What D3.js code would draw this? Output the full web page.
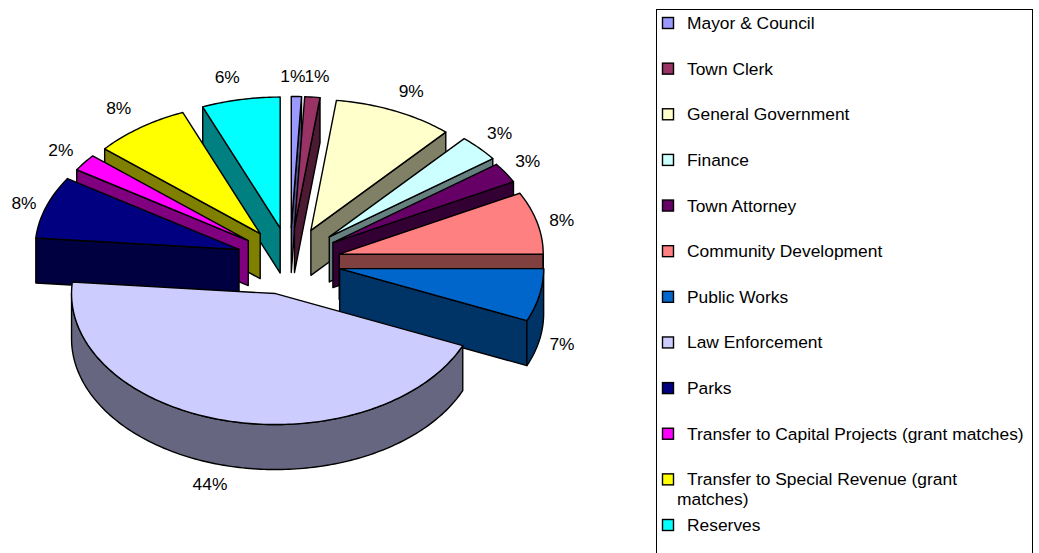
<!DOCTYPE html>
<html><head><meta charset="utf-8">
<script src="https://cdn.jsdelivr.net/npm/d3@7"></script>
<style>html,body{margin:0;padding:0;background:#fff}svg{display:block}text{font-family:"Liberation Sans",Arial,sans-serif;fill:#000}</style>
</head><body><svg id="c" width="1039" height="553"></svg>
<script>
// --- data ---
const categories = ["Mayor & Council","Town Clerk","General Government","Finance","Town Attorney","Community Development","Public Works","Law Enforcement","Parks","Transfer to Capital Projects (grant matches)","Transfer to Special Revenue (grant matches)","Reserves"];
// printed percentages
const shownPercent = [1,1,9,3,3,8,7,44,8,2,8,6];
// slice sizes estimated from the drawn pie (one decimal beyond the printed labels)
const visibleShare = [0.8,1.2,9.5,3.3,2.5,7.7,6.5,44.9,7.7,2.1,7.6,6.2];
const colours = ["#9999FF","#993366","#FFFFCC","#CCFFFF","#660066","#FF8080","#0066CC","#CCCCFF","#000080","#FF00FF","#FFFF00","#00FFFF"];

// --- layout ---
const cx=290, cy=260, rx=204, ry=131, depth=45, explode=50.7/204;
const paintOrder=[0,1,11,2,10,3,9,4,8,5,6,7];
const lean=[[0,0],[0,0],[0,0],[2,-1],[0,0],[0,2],[0,2],[-2,2],[-3,0],[-1,0],[0,0],[0,0]];
const labelNudge=[[-4,-2],[3,-3],[9,-4],[7,-3],[7,-2],[7,1],[5,45],[-11,46],[-5,2],[-9,-2],[-11,-5],[-10,-5]];

const svg=d3.select("#c");
const px=d3.scaleLinear().domain([-1,1]).range([-rx,rx]);
const py=d3.scaleLinear().domain([-1,1]).range([-ry,ry]);
const arcs=d3.pie().sort(null).startAngle(0).endAngle(2*Math.PI)(visibleShare);
const line=d3.line();
const pt=(a,r,o,dz=0)=>[o[0]+px(Math.sin(a)*r), o[1]+py(-Math.cos(a)*r)+dz];

const slices=arcs.map((d,i)=>{
  const mid=(d.startAngle+d.endAngle)/2;
  const o=[cx+px(Math.sin(mid)*explode)+lean[i][0], cy+py(-Math.cos(mid)*explode)+lean[i][1]];
  return {i,a0:d.startAngle,a1:d.endAngle,mid,o,col:colours[i]};
});
const sideCol=c=>{const k=d3.rgb(c);return d3.rgb(k.r*.5,k.g*.5,k.b*.5).formatHex();};
const arcPts=(a0,a1,o,dz=0)=>{
  const n=Math.max(2,Math.ceil((a1-a0)/(Math.PI/180)));
  return d3.range(n+1).map(k=>pt(a0+(a1-a0)*k/n,1,o,dz));
};
const stroke={stroke:"#000","stroke-width":1.4,"stroke-linejoin":"round"};
const applyS=s=>{for(const k in stroke)s.attr(k,stroke[k]);return s;};

const pie=svg.append("g");
paintOrder.forEach(idx=>{
  const s=slices[idx], g=pie.append("g"), side=sideCol(s.col);
  const wall=a=>{
    const p=pt(a,1,s.o);
    applyS(g.append("path").attr("fill",side).attr("d",line([p,s.o,[s.o[0],s.o[1]+depth],[p[0],p[1]+depth]])+"Z"));
  };
  if(Math.sin(s.a0)<-1e-6) wall(s.a0);
  if(Math.sin(s.a1)>1e-6) wall(s.a1);
  const lo=Math.max(s.a0,Math.PI/2), hi=Math.min(s.a1,3*Math.PI/2);
  if(hi>lo){
    const top=arcPts(lo,hi,s.o), bot=arcPts(lo,hi,s.o,depth).reverse();
    applyS(g.append("path").attr("fill",side).attr("d",line(top.concat(bot))+"Z"));
  }
  applyS(g.append("path").attr("fill",s.col).attr("d",line([s.o].concat(arcPts(s.a0,s.a1,s.o)))+"Z"));
});

// percent labels
svg.append("g").selectAll("text").data(slices).join("text")
  .attr("text-anchor","middle").attr("font-size",17.4).attr("dominant-baseline","central")
  .attr("x",d=>d.o[0]+Math.sin(d.mid)*(rx+18)+labelNudge[d.i][0])
  .attr("y",d=>d.o[1]-Math.cos(d.mid)*(ry+18)+labelNudge[d.i][1])
  .text(d=>shownPercent[d.i]+"%");

// legend
const lg=svg.append("g");
lg.append("rect").attr("x",656.5).attr("y",9.5).attr("width",376).attr("height",560)
  .attr("fill","#fff").attr("stroke","#000").attr("stroke-width",1);
const rowY=d3.scaleLinear().domain([0,11]).range([23,525]);
const row=lg.selectAll("g.r").data(categories).join("g").attr("class","r")
  .attr("transform",(d,i)=>`translate(0,${rowY(i)})`);
row.append("rect").attr("x",662.5).attr("y",-5.5).attr("width",11).attr("height",11)
  .attr("fill",(d,i)=>colours[i]).attr("stroke","#000").attr("stroke-width",1.4);
row.each(function(d,i){
  const t=d3.select(this).append("text").attr("font-size",17.4).attr("dominant-baseline","central");
  if(i===10){
    t.append("tspan").attr("x",687).attr("y",0).text("Transfer to Special Revenue (grant");
    t.append("tspan").attr("x",677).attr("y",20).text("matches)");
  } else t.attr("x",687).text(d);
});
</script></body></html>
